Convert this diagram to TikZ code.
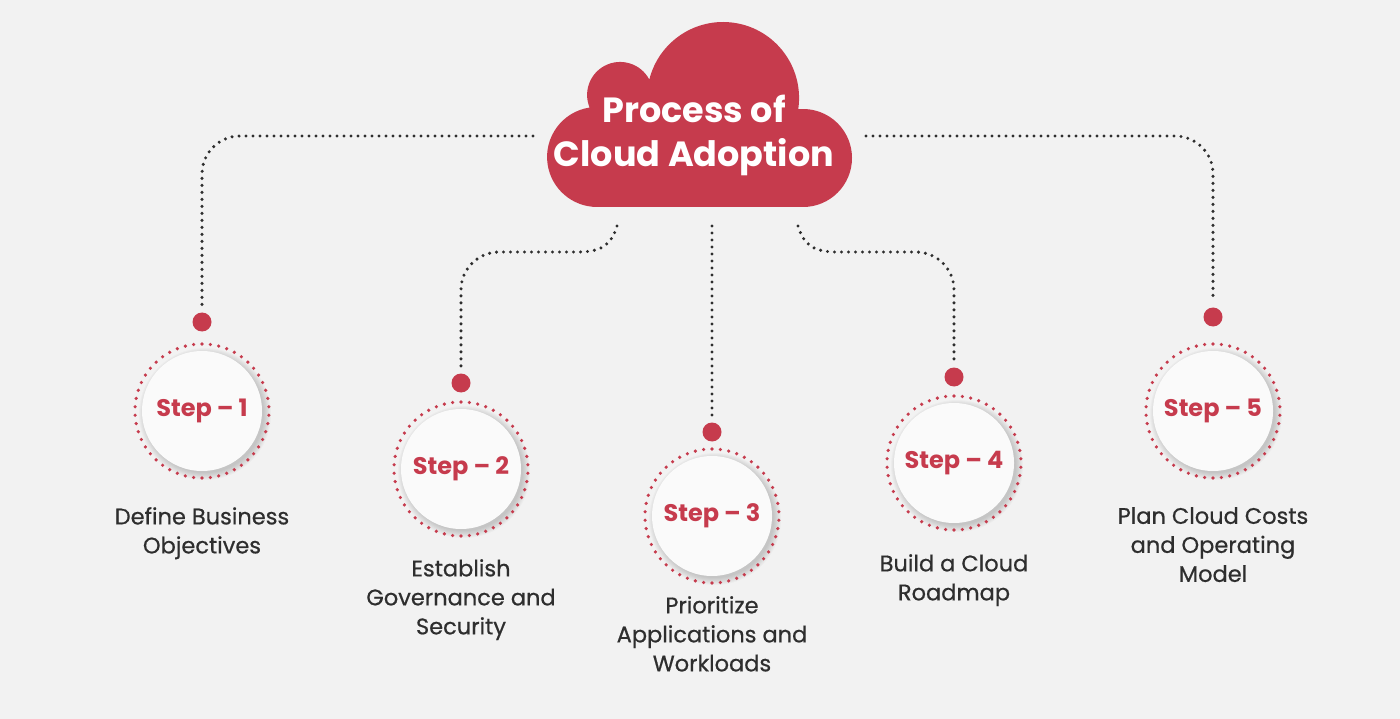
\documentclass[tikz,border=0pt]{standalone}
\usepackage{fontspec}
\setmainfont{Poppins}
\newfontfamily\labelfont[FakeBold=0.6]{Poppins}
\definecolor{bg}{HTML}{F2F2F2}
\definecolor{cred}{HTML}{C63B4D}
\definecolor{cdark}{HTML}{2E2E2E}
\definecolor{cwhite}{HTML}{FAFAFA}
\begin{document}
\begin{tikzpicture}[x=1pt,y=-1pt,
  conn/.style={draw=cdark, line width=3.4pt, line cap=round, dash pattern=on 0pt off 7pt},
  reddot/.style={circle, fill=cred, minimum size=19pt, inner sep=0pt},
  stepnode/.style={circle, fill=cwhite, minimum size=120pt, inner sep=0pt, text=cred, font=\bfseries\fontsize{24}{28}\selectfont},
  lbl/.style={anchor=north, align=center, inner sep=0pt, text=cdark, font=\labelfont\fontsize{22.5}{29}\selectfont},
  titletext/.style={align=center, inner sep=0pt, text=white, font=\bfseries\fontsize{35}{44}\selectfont}]
\useasboundingbox[fill=bg] (0,0) rectangle (1400,719);
% cloud
\fill[cred] (597,207) -- (803,207)
  arc[start angle=-90, end angle=95.6, radius=49pt]
  arc[start angle=-8.5, end angle=166, radius=76pt]
  arc[start angle=27.7, end angle=202.4, radius=33pt]
  arc[start angle=98.6, end angle=270, radius=50pt] -- cycle;
\node[titletext] (title) at (694,135) {Process of\\Cloud Adoption};
\coordinate (c1) at (533,136);
\coordinate (c2) at (617,226);
\coordinate (c3) at (712,226);
\coordinate (c4) at (798,226);
\coordinate (c5) at (866,136);
% steps
\foreach \i/\x/\y/\dy in {1/202/411/322, 2/461/469/383, 3/712/516/432, 4/954/463/377, 5/1213/411/317}{
  \foreach \k in {0,...,7}{
    \fill[black,opacity=0.025] ({\x+3},{\y+3}) circle[radius={(66-\k)*1pt}];
  }
  \node[stepnode] (s\i) at (\x,\y) {Step – \i};
  \foreach \a in {0,7.2,...,359}{
    \fill[cred] ([shift={(\a+90:67pt)}]s\i.center) circle[radius=1.8pt];
  }
  \node[reddot] (d\i) at (\x,\dy) {};
}
% connectors
\draw[conn, rounded corners=38pt] (c1) -| ([yshift=7pt]d1.north);
\draw[conn] (c2) .. controls (611,246) and (600,252) .. (578,252) [rounded corners=38pt] -- (461,252) -- ([yshift=6pt]d2.north);
\draw[conn] (c3) -- ([yshift=6pt]d3.north);
\draw[conn] (c4) .. controls (804,246) and (815,252) .. (837,252) [rounded corners=38pt] -- (954,252) -- ([yshift=6pt]d4.north);
\draw[conn, rounded corners=38pt] (c5) -| ([yshift=6pt]d5.north);
% labels
\node[lbl] (l1) at (202,507) {Define Business\\Objectives};
\node[lbl] (l2) at (461,559) {Establish\\Governance and\\Security};
\node[lbl] (l3) at (712,596) {Prioritize\\Applications and\\Workloads};
\node[lbl] (l4) at (954,554) {Build a Cloud\\Roadmap};
\node[lbl] (l5) at (1213,507) {Plan Cloud Costs\\and Operating\\Model};
\end{tikzpicture}
\end{document}
